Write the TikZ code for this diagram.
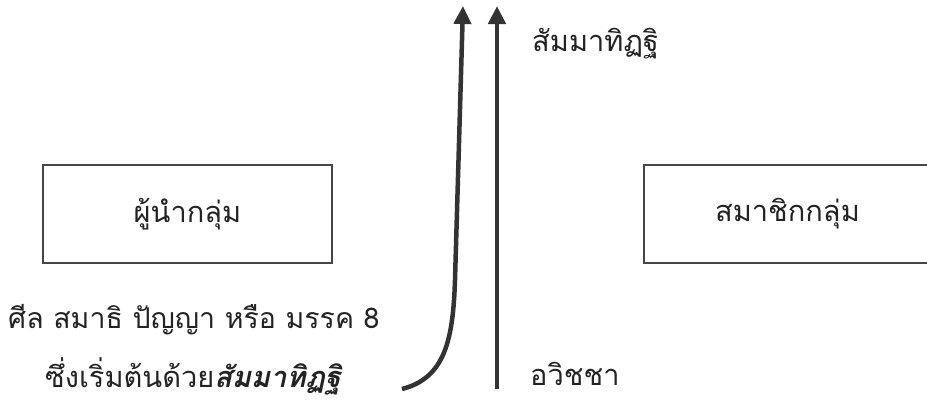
\documentclass[tikz,border=0pt]{standalone}
\usepackage{fontspec}
\newfontfamily\thaifont[Script=Thai]{Loma}
\usepackage{tikz}
\usetikzlibrary{positioning,arrows.meta,calc}
\definecolor{lineclr}{RGB}{51,51,51}
\definecolor{boxclr}{RGB}{70,70,70}
\definecolor{txtclr}{RGB}{35,35,35}
\tikzset{
  grp/.style={rectangle,draw=boxclr,line width=1.6pt,fill=white,
              minimum width=289pt,minimum height=98pt,inner sep=0pt,
              font=\thaifont\fontsize{29}{34}\selectfont,text=txtclr},
  lbl/.style={inner sep=0pt,font=\thaifont\fontsize{29}{34}\selectfont,text=txtclr},
  flow/.style={draw=lineclr,line width=4.5pt,
               -{Triangle[length=18pt,width=17pt]}},
}

\begin{document}
\begin{tikzpicture}[x=1pt,y=-1pt]
\useasboundingbox (0,0) rectangle (927,400);
\node[grp] (leader) at (187.5,214) {ผู้นำกลุ่ม};
\node[grp,minimum width=287pt] (member) at (787.5,214) {สมาชิกกลุ่ม};
\coordinate (curvebot) at (402,389);
\coordinate (curvetop) at (463,6);
\coordinate (linebot) at (497,389);
\coordinate (linetop) at (497,6);
\draw[flow] (curvebot) .. controls (445,378) and (453,340) .. (455,280) -- (curvetop);
\draw[flow] (linebot) -- (linetop);
\node[lbl,anchor=west] (rightview) at (532,44) {สัมมาทิฏฐิ};
\node[lbl,anchor=west] (ignorance) at (530,374) {อวิชชา};
\node[lbl,anchor=west,font=\thaifont\fontsize{28.5}{34}\selectfont]
  (pathtop) at (8,320) {ศีล สมาธิ ปัญญา หรือ มรรค 8};
\node[lbl,anchor=west] (pathbot) at (45,376)
  {ซึ่งเริ่มต้นด้วย\textbf{\textit{สัมมาทิฏฐิ}}};
\end{tikzpicture}
\end{document}
